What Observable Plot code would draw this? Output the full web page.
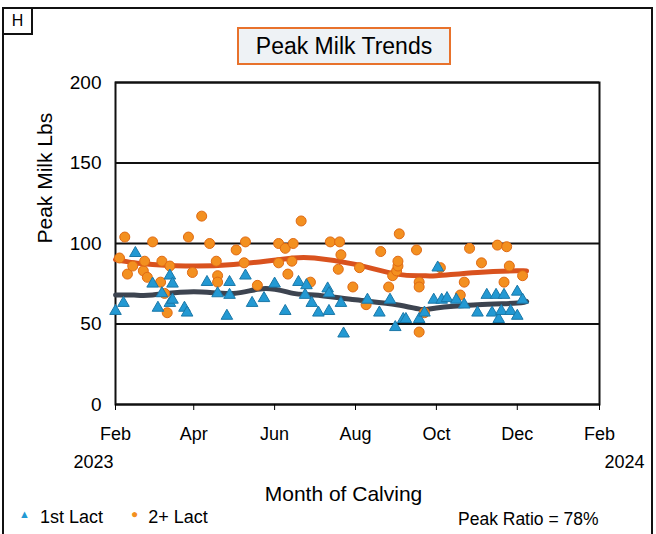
<!DOCTYPE html>
<html><head><meta charset="utf-8">
<script src="https://cdn.jsdelivr.net/npm/d3@7"></script>
<script src="https://cdn.jsdelivr.net/npm/@observablehq/plot@0.6"></script>
<style>
body{margin:0;background:#fff;font-family:"Liberation Sans",Arial,sans-serif;color:#000;}
#wrap{position:relative;width:656px;height:534px;overflow:hidden;background:#fff;}
#chart{position:absolute;left:0;top:0;}
#border{position:absolute;left:2px;top:7px;width:647px;height:560px;border:2px solid #111;pointer-events:none;}
#hbox{position:absolute;left:2px;top:7px;width:27px;height:24px;border:2px solid #111;font-size:16px;line-height:24px;text-align:center;background:#fff;}
#title{position:absolute;left:237px;top:27px;width:210px;height:34px;border:2px solid #e8722c;background:#eef2f5;font-size:23px;line-height:34px;text-align:center;}
.leg{position:absolute;font-size:18px;white-space:nowrap;}
</style></head>
<body>
<div id="wrap">
  <div id="chart"></div>
  <div id="border"></div>
  <div id="hbox">H</div>
  <div id="title">Peak Milk Trends</div>
  <div class="leg" style="left:19px;top:507px;"><span style="color:#2399d3;font-size:11px;vertical-align:5px;">&#9650;</span>&nbsp;&nbsp;1st Lact</div>
  <div class="leg" style="left:131px;top:507px;"><span style="color:#f39020;font-size:12px;vertical-align:5px;">&#9679;</span>&nbsp;&nbsp;2+ Lact</div>
  <div class="leg" style="left:458px;top:509px;font-size:17.5px;">Peak Ratio = 78%</div>
</div>
<script>
// Axis ticks
const tickDates = ["2023-02-01","2023-04-01","2023-06-01","2023-08-01","2023-10-01","2023-12-01","2024-02-01"];
const tickLabels = ["Feb","Apr","Jun","Aug","Oct","Dec","Feb"];
const yTicks = [0, 50, 100, 150, 200];
const yearDates = ["2023-02-01","2024-02-01"];
const yearLabels = ["2023","2024"];

// 1st Lact (blue triangles)
const firstDates = ["2023-02-01","2023-02-07","2023-02-16","2023-03-01","2023-03-05","2023-03-08","2023-03-14","2023-03-14","2023-03-16","2023-03-16",
  "2023-03-25","2023-03-27","2023-04-11","2023-04-19","2023-04-26","2023-04-28","2023-04-28","2023-05-10","2023-05-15","2023-05-24",
  "2023-06-01","2023-06-09","2023-06-19","2023-06-24","2023-06-25","2023-06-29","2023-07-04","2023-07-11","2023-07-12","2023-07-12",
  "2023-07-21","2023-07-23","2023-08-10","2023-08-19","2023-08-27","2023-08-31","2023-09-06","2023-09-08","2023-09-18","2023-09-22",
  "2023-09-29","2023-10-02","2023-10-05","2023-10-09","2023-10-16","2023-10-22","2023-11-01","2023-11-08","2023-11-12","2023-11-15",
  "2023-11-17","2023-11-19","2023-11-21","2023-11-26","2023-12-01","2023-12-01","2023-12-05"];
const firstValues = [58,63,94,75,60,69,80,63,75,65,
  60,57,76,69,55,76,68,80,63,66,
  75,58,76,68,74,63,57,72,69,58,
  63,44,65,57,65,48,53,53,53,57,
  65,85,65,66,65,62,57,68,57,68,
  53,58,68,58,70,55,65];

// 2+ Lact (orange dots)
const secondDates = ["2023-02-04","2023-02-08","2023-02-10","2023-02-14","2023-02-22","2023-02-23","2023-02-25","2023-03-01","2023-03-07","2023-03-08",
  "2023-03-10","2023-03-12","2023-03-14","2023-03-28","2023-03-31","2023-04-07","2023-04-13","2023-04-18","2023-04-19","2023-04-19",
  "2023-05-03","2023-05-09","2023-05-10","2023-05-19","2023-06-04","2023-06-04","2023-06-09","2023-06-11","2023-06-14","2023-06-15",
  "2023-06-21","2023-06-28","2023-07-13","2023-07-19","2023-07-20","2023-07-21","2023-07-30","2023-08-04","2023-08-09","2023-08-20",
  "2023-08-26","2023-08-29","2023-09-01","2023-09-02","2023-09-02","2023-09-03","2023-09-16","2023-09-18","2023-09-18","2023-09-18",
  "2023-09-22","2023-10-04","2023-10-19","2023-10-22","2023-10-26","2023-11-04","2023-11-16","2023-11-21","2023-11-23","2023-11-25",
  "2023-12-05"];
const secondValues = [91,104,81,86,83,89,79,101,76,89,
  69,57,86,104,82,117,100,89,80,76,
  96,88,101,74,100,88,97,81,89,100,
  114,76,101,84,101,93,73,85,62,95,
  73,80,83,86,89,106,96,76,73,45,
  57,85,68,76,97,88,99,76,98,86,
  80];

// Trend lines
const trendDates = ["2023-02-01","2023-02-15","2023-03-01","2023-04-01","2023-05-01","2023-05-25","2023-06-15","2023-07-01","2023-08-01","2023-09-01","2023-09-20","2023-10-01","2023-11-01","2023-12-01","2023-12-08"];
const firstTrend  = [68,68,68,70,69,72,69,68,65,62,59,60,62,63,64];
const secondTrend = [90,88,87,86,87,89,91,91,87,81,80,80,82,83,83];

const P = d => new Date(d + "T00:00:00Z");
const first = firstDates.map((d, i) => ({date: P(d), value: firstValues[i]}));
const second = secondDates.map((d, i) => ({date: P(d), value: secondValues[i]}));
const trend1 = trendDates.map((d, i) => ({date: P(d), value: firstTrend[i]}));
const trend2 = trendDates.map((d, i) => ({date: P(d), value: secondTrend[i]}));
const ticks = tickDates.map(P);
const years = yearDates.map((d, i) => ({date: P(d), label: yearLabels[i]}));

const plot = Plot.plot({
  width: 656,
  height: 534,
  marginLeft: 115,
  marginRight: 57,
  marginTop: 82,
  marginBottom: 130,
  style: {fontFamily: "'Liberation Sans', Arial, sans-serif", fontSize: "18px", background: "transparent", color: "#000"},
  x: {type: "utc", domain: [P("2023-02-01"), P("2024-02-01")], label: null},
  y: {domain: [0, 200], label: null},
  marks: [
    Plot.ruleY(yTicks, {stroke: "#111", strokeWidth: 2}),
    Plot.frame({stroke: "#111", strokeWidth: 2}),
    Plot.axisX({ticks: ticks, tickFormat: (d, i) => tickLabels[i], tickSize: 6, tickPadding: 17, fontSize: 18, label: null}),
    Plot.axisY({ticks: yTicks, tickSize: 0, tickPadding: 14, fontSize: 19, label: null}),
    Plot.line(trend2, {x: "date", y: "value", stroke: "#d9521e", strokeWidth: 5, curve: "natural"}),
    Plot.line(trend1, {x: "date", y: "value", stroke: "#3d4450", strokeWidth: 5, curve: "natural"}),
    Plot.dot(second, {x: "date", y: "value", r: 5, fill: "#f39020", stroke: "#e06a14", strokeWidth: 1}),
    Plot.dot(first, {x: "date", y: "value", symbol: "triangle", r: 4.3, fill: "#2399d3", stroke: "#1b78a8", strokeWidth: 1}),
    Plot.text(years.slice(0, 1), {x: "date", text: "label", frameAnchor: "bottom", dy: 63, dx: -22, fontSize: 18}),
    Plot.text(years.slice(1), {x: "date", text: "label", frameAnchor: "bottom", dy: 63, dx: 25, fontSize: 18}),
    Plot.text(["Month of Calving"], {frameAnchor: "bottom", dy: 96, dx: -14, fontSize: 21}),
    Plot.text(["Peak Milk Lbs"], {frameAnchor: "left", dx: -70, rotate: -90, fontSize: 21})
  ]
});
document.getElementById("chart").appendChild(plot);
</script>
</body></html>
